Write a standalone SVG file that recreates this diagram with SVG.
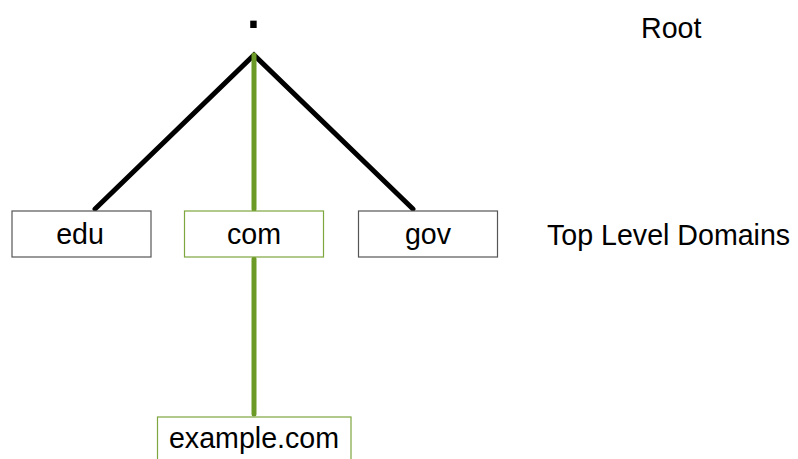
<svg xmlns="http://www.w3.org/2000/svg" width="798" height="459" viewBox="0 0 798 459">
  <style>
    text { font-family: "Liberation Sans", Arial, sans-serif; font-size: 28.6px; fill: #000; }
    .node rect { fill: #fff; stroke-width: 1.2; }
    .plain rect { stroke: #555; }
    .path rect { stroke: #7ea63f; }
    .edge { fill: none; stroke-width: 5; stroke-linecap: round; }
    .edge.black { stroke: #000; }
    .edge.green { stroke: #6b9a27; }
    .mid { text-anchor: middle; }
  </style>
  <rect width="798" height="459" fill="#fff"/>

  <!-- connectors -->
  <g id="connectors">
    <polyline class="edge black" points="95,209 254,55 413,209" stroke-linejoin="miter"/>
    <line class="edge green" x1="254" y1="55" x2="254" y2="209"/>
    <line class="edge green" x1="254" y1="259" x2="254" y2="414"/>
  </g>

  <!-- root -->
  <g id="root">
    <text class="mid" x="253.5" y="28" style="font-size:68px">.</text>
  </g>

  <!-- top level domains -->
  <g id="edu" class="node plain">
    <rect x="12" y="211" width="139" height="46"/>
    <text class="mid" x="80" y="244">edu</text>
  </g>
  <g id="com" class="node path">
    <rect x="184.5" y="211" width="139" height="46"/>
    <text class="mid" x="254" y="244">com</text>
  </g>
  <g id="gov" class="node plain">
    <rect x="358.5" y="211" width="139" height="46"/>
    <text class="mid" x="428" y="244">gov</text>
  </g>

  <!-- second level -->
  <g id="example" class="node path">
    <rect x="157.5" y="417" width="193.5" height="60"/>
    <text class="mid" x="254" y="448">example.com</text>
  </g>

  <!-- level labels -->
  <text x="641" y="38">Root</text>
  <text x="547" y="245">Top Level Domains</text>
</svg>
